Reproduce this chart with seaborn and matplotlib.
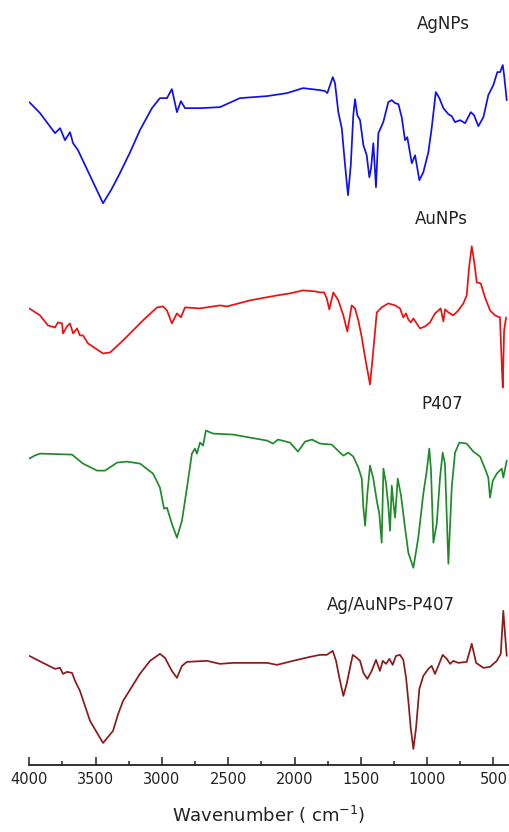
import numpy as np
import pandas as pd
import matplotlib
matplotlib.use("Agg")
import matplotlib.pyplot as plt
import seaborn as sns
from matplotlib.ticker import MultipleLocator

sns.set_style("white")
plt.rcParams['font.family'] = ['DejaVu Sans']

# ---- data (wavenumber in cm^-1, transmittance in arbitrary offset units) ----
ag_wn = [4000, 3919, 3806, 3768, 3731, 3693, 3670, 3633, 3540, 3444, 3380, 3317, 3240, 3166,
         3075, 3015, 2962, 2925, 2887, 2857, 2826, 2713, 2562, 2412, 2208, 2057, 1936,
         1808, 1770, 1753, 1712, 1695, 1670, 1644, 1619, 1597, 1576, 1557, 1544, 1527, 1506,
         1481, 1456, 1436, 1423, 1406, 1386, 1368, 1331, 1293, 1267, 1242, 1217, 1192, 1167,
         1150, 1116, 1091, 1059, 1029, 991, 966, 935, 908, 878, 840, 815, 790, 752, 714, 671,
         647, 614, 576, 539, 501, 471, 450, 430, 420, 400]
ag_t = [662, 651, 631, 636, 624, 632, 621, 614, 588, 561, 575, 591, 612, 634,
        656, 666, 666, 675, 652, 663, 656, 656, 657, 666, 668, 671, 676,
        674, 673, 671, 687, 681, 652, 636, 599, 569, 599, 649, 665, 649, 644,
        619, 609, 587, 596, 621, 577, 631, 642, 662, 664, 661, 660, 647, 624,
        627, 601, 609, 584, 592, 612, 636, 672, 666, 656, 650, 648, 642, 644, 641, 652,
        649, 638, 647, 669, 679, 692, 692, 699, 689, 664]

au_wn = [4000, 3919, 3859, 3806, 3784, 3753, 3746, 3716, 3693, 3670, 3640, 3618, 3595, 3557,
         3444, 3391, 3293, 3143, 3037, 2992, 2962, 2925, 2887, 2857, 2826, 2713, 2562, 2509,
         2336, 2132, 2034, 1936, 1846,
         1808, 1778, 1757, 1738, 1708, 1670, 1632, 1602, 1569, 1544, 1519, 1493, 1468, 1431,
         1406, 1380, 1343, 1293, 1242, 1205, 1180, 1159, 1142, 1124, 1104, 1079, 1054, 1016,
         979, 941, 898, 878, 865, 840, 803, 765, 727, 702, 684, 664, 647, 626, 596, 564, 526,
         488, 451, 438, 430, 420, 405]
au_t = [456, 449, 439, 437, 442, 441, 431, 438, 441, 431, 436, 429, 429, 421,
        411, 412, 424, 444, 457, 458, 454, 441, 451, 447, 457, 456, 459, 458,
        464, 469, 471, 474, 473,
        472, 472, 466, 455, 472, 464, 449, 433, 459, 456, 444, 427, 407, 380,
        414, 452, 457, 461, 459, 456, 447, 451, 445, 442, 446, 441, 436, 438,
        442, 451, 456, 443, 455, 452, 449, 454, 461, 469, 497, 518, 504, 482, 481, 467, 454,
        449, 447, 401, 377, 434, 447]

p407_wn = [4000, 3960, 3919, 3678, 3595, 3489, 3429, 3338, 3263, 3165, 3067, 3015, 2984, 2962,
           2925, 2887, 2849, 2811, 2774, 2751, 2736, 2713, 2690, 2668, 2615, 2464, 2208, 2162,
           2125, 2034, 1974, 1921, 1868,
           1808, 1720, 1657, 1632, 1594, 1557, 1519, 1493, 1481, 1468, 1451, 1431, 1406, 1380,
           1361, 1343, 1330, 1310, 1293, 1280, 1267, 1255, 1242, 1222, 1197, 1167, 1142, 1104,
           1067, 1029, 1003, 984, 971, 953, 928, 903, 883, 866, 840, 815, 790, 757, 702, 652,
           601, 564, 539, 526, 505, 475, 438, 426, 400]
p407_t = [306, 309, 311, 310, 301, 294, 294, 302, 303, 301, 291, 277, 256, 257,
          241, 227, 244, 277, 311, 316, 311, 322, 319, 334, 331, 330, 324, 321,
          325, 322, 313, 323, 325,
          321, 320, 312, 309, 312, 308, 297, 286, 257, 239, 271, 299, 286, 264,
          251, 222, 296, 281, 259, 234, 279, 262, 247, 286, 269, 237, 212, 197,
          227, 271, 294, 316, 294, 222, 241, 287, 312, 301, 201, 277, 312, 322, 321, 313,
          308, 296, 287, 267, 284, 291, 296, 287, 304]

mix_wn = [4000, 3897, 3806, 3768, 3746, 3716, 3678, 3655, 3618, 3542, 3493, 3444, 3369, 3330,
          3293, 3166, 3090, 3015, 2977, 2925, 2887, 2849, 2811, 2660, 2562, 2464, 2208, 2132,
          2012, 1883,
          1808, 1757, 1712, 1687, 1662, 1632, 1607, 1582, 1561, 1531, 1506, 1481, 1451, 1418,
          1386, 1356, 1335, 1310, 1285, 1260, 1235, 1205, 1180, 1159, 1142, 1124, 1104, 1084,
          1059, 1029, 991, 966, 941, 916, 883, 852, 827, 803, 765, 702, 664, 631, 576, 526,
          475, 445, 426, 413, 400]
mix_t = [109, 102, 96, 97, 91, 93, 92, 84, 74, 44, 33, 22, 34, 51,
         64, 91, 104, 111, 107, 94, 87, 99, 103, 104, 101, 102, 102, 100,
         104, 108,
         110, 110, 114, 104, 87, 69, 81, 97, 110, 107, 104, 92, 86, 94,
         105, 94, 104, 101, 106, 100, 109, 110, 105, 87, 64, 37, 16, 37,
         76, 89, 96, 99, 91, 99, 110, 106, 101, 104, 102, 103, 121, 102, 97, 98,
         104, 111, 154, 131, 109]

names = ["AgNPs", "AuNPs", "P407", "Ag/AuNPs-P407"]
colors = ["#1010ee", "#ee1010", "#1f8a2a", "#8b1a1a"]
label_pos = [(880, 735), (895, 540), (888, 356), (1272, 155)]
tick_values = [4000, 3500, 3000, 2500, 2000, 1500, 1000, 500]

series = [(ag_wn, ag_t), (au_wn, au_t), (p407_wn, p407_t), (mix_wn, mix_t)]

W, H = 509, 832
fig = plt.figure(figsize=(W / 100, H / 100), dpi=100)
ax = fig.add_axes([29.3 / W, 67 / H, 1 - 29.3 / W, 1 - 67 / H])

for (wn, t), name, c in zip(series, names, colors):
    df = pd.DataFrame({"wn": wn, "t": t})
    sns.lineplot(data=df, x="wn", y="t", sort=False, color=c, lw=1.25, ax=ax)

for name, (xp, yp) in zip(names, label_pos):
    ax.text(xp, yp, name, ha="center", va="baseline", fontsize=12, color="#222222")

ax.set_xlim(4000, 383)
ax.set_ylim(0, 764)
ax.set_xticks(tick_values)
ax.set_xticklabels([str(v) for v in tick_values])
ax.xaxis.set_minor_locator(MultipleLocator(250))
ax.tick_params(axis="x", which="major", direction="in", length=6, width=1.1,
               labelsize=10.5, pad=5, colors="#222222", bottom=True)
ax.tick_params(axis="x", which="minor", direction="in", length=3, width=1.1, bottom=True)
ax.set_yticks([])
for s in ["left", "top", "right"]:
    ax.spines[s].set_visible(False)
ax.spines["bottom"].set_linewidth(1.3)
ax.spines["bottom"].set_color("#222222")
ax.set_ylabel("")
ax.set_xlabel(r"Wavenumber ( cm$^{-1}$)", fontsize=13, labelpad=12, color="#222222")

fig.savefig("out.png", dpi=100)
